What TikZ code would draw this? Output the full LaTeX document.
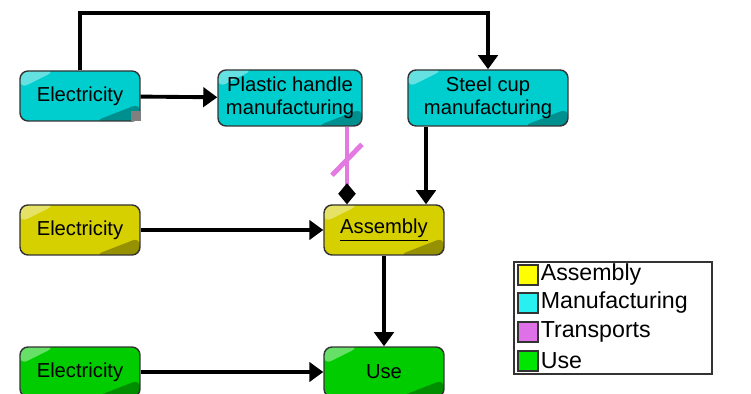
\documentclass[tikz,border=0pt]{standalone}
\usepackage{fontspec}
\setmainfont{Liberation Sans}
\usetikzlibrary{arrows.meta,calc}

\definecolor{manuf}{RGB}{0,206,206}
\definecolor{assem}{RGB}{214,208,0}
\definecolor{usec}{RGB}{0,204,0}
\definecolor{transp}{RGB}{226,122,226}
\definecolor{legyellow}{RGB}{255,255,0}
\definecolor{legcyan}{RGB}{40,240,240}
\definecolor{legpink}{RGB}{222,112,232}
\definecolor{leggreen}{RGB}{0,230,0}

\tikzset{
  proc/.style={draw=black!80, thick, rounded corners=0.16cm, align=center,
    font=\fontsize{11.5}{13}\selectfont, inner sep=2pt,
    minimum width=2.4cm, minimum height=1cm,
    path picture={
      \fill[white, opacity=0.4] (path picture bounding box.north west)
        -- ++(0.7cm,0) -- ++(-0.7cm,-0.35cm) -- cycle;
      \fill[black, opacity=0.3] (path picture bounding box.south east)
        -- ++(-0.9cm,0) -- ++(0.9cm,0.35cm) -- cycle;
    }},
  flow/.style={line width=2.2pt, -{Triangle[length=8pt,width=11pt]}},
  transport/.style={line width=2.8pt, transp},
  legbox/.style={draw=black!80, thick, minimum size=0.4cm, inner sep=0pt},
  legtext/.style={font=\fontsize{13.2}{15}\selectfont, anchor=west, inner sep=1pt}
}

\begin{document}
\begin{tikzpicture}[x=0.02cm, y=-0.02cm]

	\useasboundingbox (0,0) rectangle (751,394);

	% 1. Process nodes
	% Top row (manufacturing)
	\node[proc, fill=manuf] (E1) at (80, 96) {Electricity};
	\node[proc, fill=manuf, minimum width=2.88cm, minimum height=1.12cm] (PH) at (290, 98) {Plastic handle\\manufacturing};
	\node[proc, fill=manuf, minimum width=3.2cm, minimum height=1.12cm] (SC) at (488, 98) {Steel cup\\manufacturing};
	\fill[gray] ([shift={(-0.2cm,0.01cm)}]E1.south east) rectangle ++(0.2cm,0.2cm);

	% Middle row (assembly)
	\node[proc, fill=assem] (E2) at (80, 230) {Electricity};
	\node[proc, fill=assem] (As) at (384, 230) {\underline{Assembly}};

	% Bottom row (use)
	\node[proc, fill=usec] (E3) at (80, 372) {Electricity};
	\node[proc, fill=usec] (Us) at (384, 372) {Use};

	% 2. Connections
	\draw[flow] (E1.north) -- ++(0,1.14cm) -| (SC.north);
	\draw[flow] (E1) -- (PH);
	\draw[flow] ([xshift=-1.24cm]SC.south) -- ([xshift=-1.24cm]SC.south |- As.north);
	\draw[flow] (E2) -- (As);
	\draw[flow] (As) -- (Us);
	\draw[flow] (E3) -- (Us);

	% Transport link (with diamond end and slash mark)
	\draw[transport, -{Diamond[black,length=12pt,width=10pt]}] ([xshift=1.14cm]PH.south)
		-- coordinate[pos=0.42] (tk) ([xshift=1.14cm]PH.south |- As.north);
	\draw[transport] ([shift={(-0.3cm,-0.32cm)}]tk) -- ([shift={(0.3cm,0.3cm)}]tk);

	% 3. Legend
	\node[draw=black!80, thick, minimum width=3.96cm, minimum height=2.24cm] (leg) at (613, 318) {};
	\node[legbox, fill=legyellow] (L1) at (528, 275) {};
	\node[legbox, fill=legcyan] (L2) at (528, 303) {};
	\node[legbox, fill=legpink] (L3) at (528, 332) {};
	\node[legbox, fill=leggreen] (L4) at (528, 361) {};
	\node[legtext] (T1) at (L1.east) {Assembly};
	\node[legtext] (T2) at (L2.east) {Manufacturing};
	\node[legtext] (T3) at (L3.east) {Transports};
	\node[legtext] (T4) at (L4.east) {Use};

\end{tikzpicture}
\end{document}
